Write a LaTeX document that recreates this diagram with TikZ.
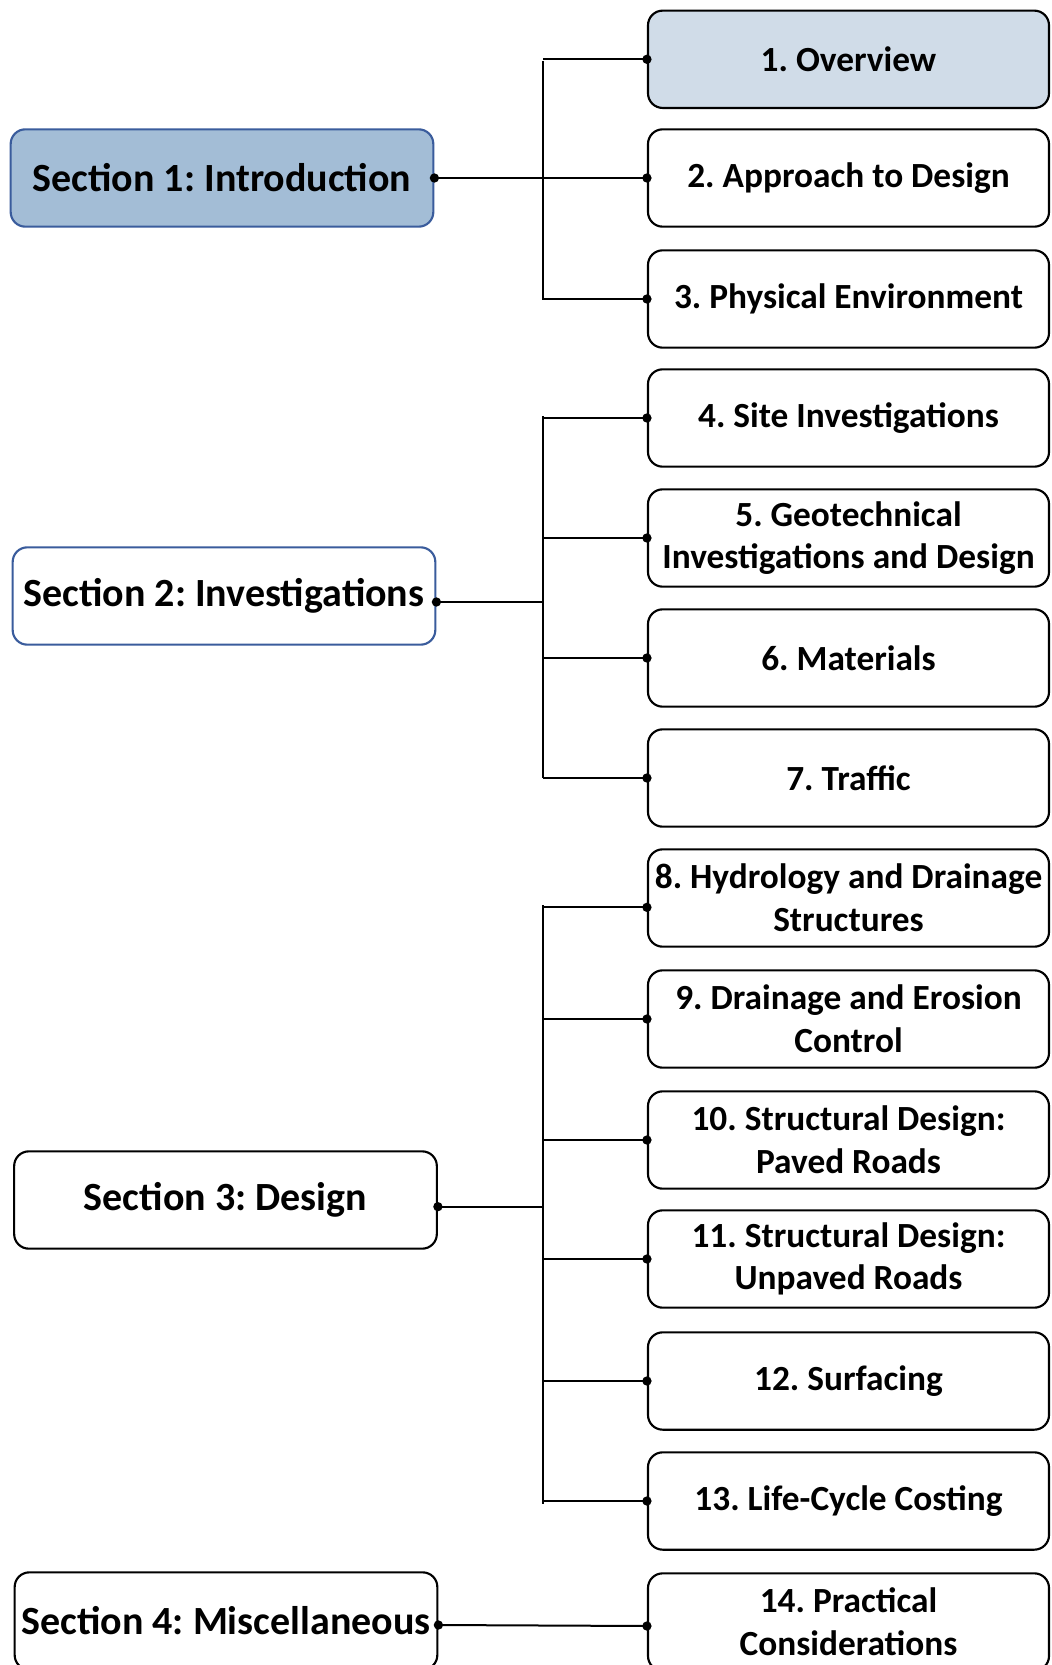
\documentclass[tikz,border=0pt]{standalone}
\usepackage{fontspec}
\setmainfont{Carlito}
\definecolor{secfill}{HTML}{A3BDD6}
\definecolor{secblue}{HTML}{3A5C9C}
\definecolor{ovfill}{HTML}{D0DCE8}
\begin{document}
\frenchspacing
\begin{tikzpicture}[x=0.75pt,y=-0.75pt,
  secbox/.style={draw=black,line width=1.6pt,rounded corners=11pt,fill=white,
    minimum width=317pt,minimum height=73pt,inner sep=0pt,
    font=\fontsize{30}{34}\selectfont\bfseries,align=center},
  chbox/.style={draw=black,line width=1.6pt,rounded corners=11pt,fill=white,
    minimum width=300.75pt,minimum height=73pt,inner sep=0pt,
    font=\fontsize{26.5}{32}\selectfont\bfseries,align=center},
  link/.style={line width=1.5pt},
  dot/.style={circle,fill=black,inner sep=0pt,minimum size=7pt}]
\useasboundingbox (0,0) rectangle (1051,1665);
% section boxes
\node[secbox,fill=secfill,draw=secblue] (s1) at (222,178) {Section 1: Introduction};
\node[secbox,draw=secblue] (s2) at (224,596) {Section 2: Investigations};
\node[secbox] (s3) at (225.5,1200) {Section 3: Design};
\node[secbox] (s4) at (226,1621) {Section 4: Miscellaneous};
% chapter boxes
\node[chbox,fill=ovfill] (c1) at (848.5,59.3) {1. Overview};
\node[chbox] (c2) at (848.5,178) {2. Approach to Design};
\node[chbox] (c3) at (848.5,299) {3. Physical Environment};
\node[chbox] (c4) at (848.5,418) {4. Site Investigations};
\node[chbox] (c5) at (848.5,538) {5. Geotechnical\\Investigations and Design};
\node[chbox] (c6) at (848.5,658) {6. Materials};
\node[chbox] (c7) at (848.5,778) {7. Traffic};
\node[chbox] (c8) at (848.5,898) {8. Hydrology and Drainage\\Structures};
\node[chbox] (c9) at (848.5,1019) {9. Drainage and Erosion\\Control};
\node[chbox] (c10) at (848.5,1140) {10. Structural Design:\\Paved Roads};
\node[chbox] (c11) at (848.5,1259) {11. Structural Design:\\Unpaved Roads};
\node[chbox] (c12) at (848.5,1381) {12. Surfacing};
\node[chbox] (c13) at (848.5,1501) {13. Life-Cycle Costing};
\node[chbox] (c14) at (848.5,1622) {14. Practical\\Considerations};
% trunk coordinates
\coordinate (t1a) at (543,61);
\coordinate (t1b) at (543,300);
\coordinate (t2a) at (543,416);
\coordinate (t2b) at (543,778);
\coordinate (t3a) at (543,905);
\coordinate (t3b) at (543,1504);
\draw[link] (t1a) -- (t1b);
\draw[link] (t2a) -- (t2b);
\draw[link] (t3a) -- (t3b);
% group 1
\draw[link] (s1.east) -- (s1.east -| t1a);
\foreach \c in {c1,c2,c3} \draw[link] (\c.west -| t1a) -- (\c.west);
% group 2
\draw[link] ([yshift=-4.5pt]s2.east) -- ([yshift=-4.5pt]s2.east -| t2a);
\foreach \c in {c4,c5,c6,c7} \draw[link] (\c.west -| t2a) -- (\c.west);
% group 3
\draw[link] ([yshift=-5pt]s3.east) -- ([yshift=-5pt]s3.east -| t3a);
\draw[link] ([yshift=-7pt]c8.west -| t3a) -- ([yshift=-7pt]c8.west);
\foreach \c in {c9,c10,c11,c12,c13} \draw[link] (\c.west -| t3a) -- (\c.west);
% group 4
\draw[link] ([yshift=-3pt]s4.east) -- ([yshift=-3pt]c14.west);
% dots
\node[dot] at (s1.east) {};
\node[dot] at ([yshift=-4.5pt]s2.east) {};
\node[dot] at ([yshift=-5pt]s3.east) {};
\node[dot] at ([yshift=-3pt]s4.east) {};
\node[dot] at ([yshift=-3pt]c14.west) {};
\foreach \c in {c1,c2,c3,c4,c5,c6,c7,c9,c10,c11,c12,c13} \node[dot] at (\c.west) {};
\node[dot] at ([yshift=-7pt]c8.west) {};
\end{tikzpicture}
\end{document}
